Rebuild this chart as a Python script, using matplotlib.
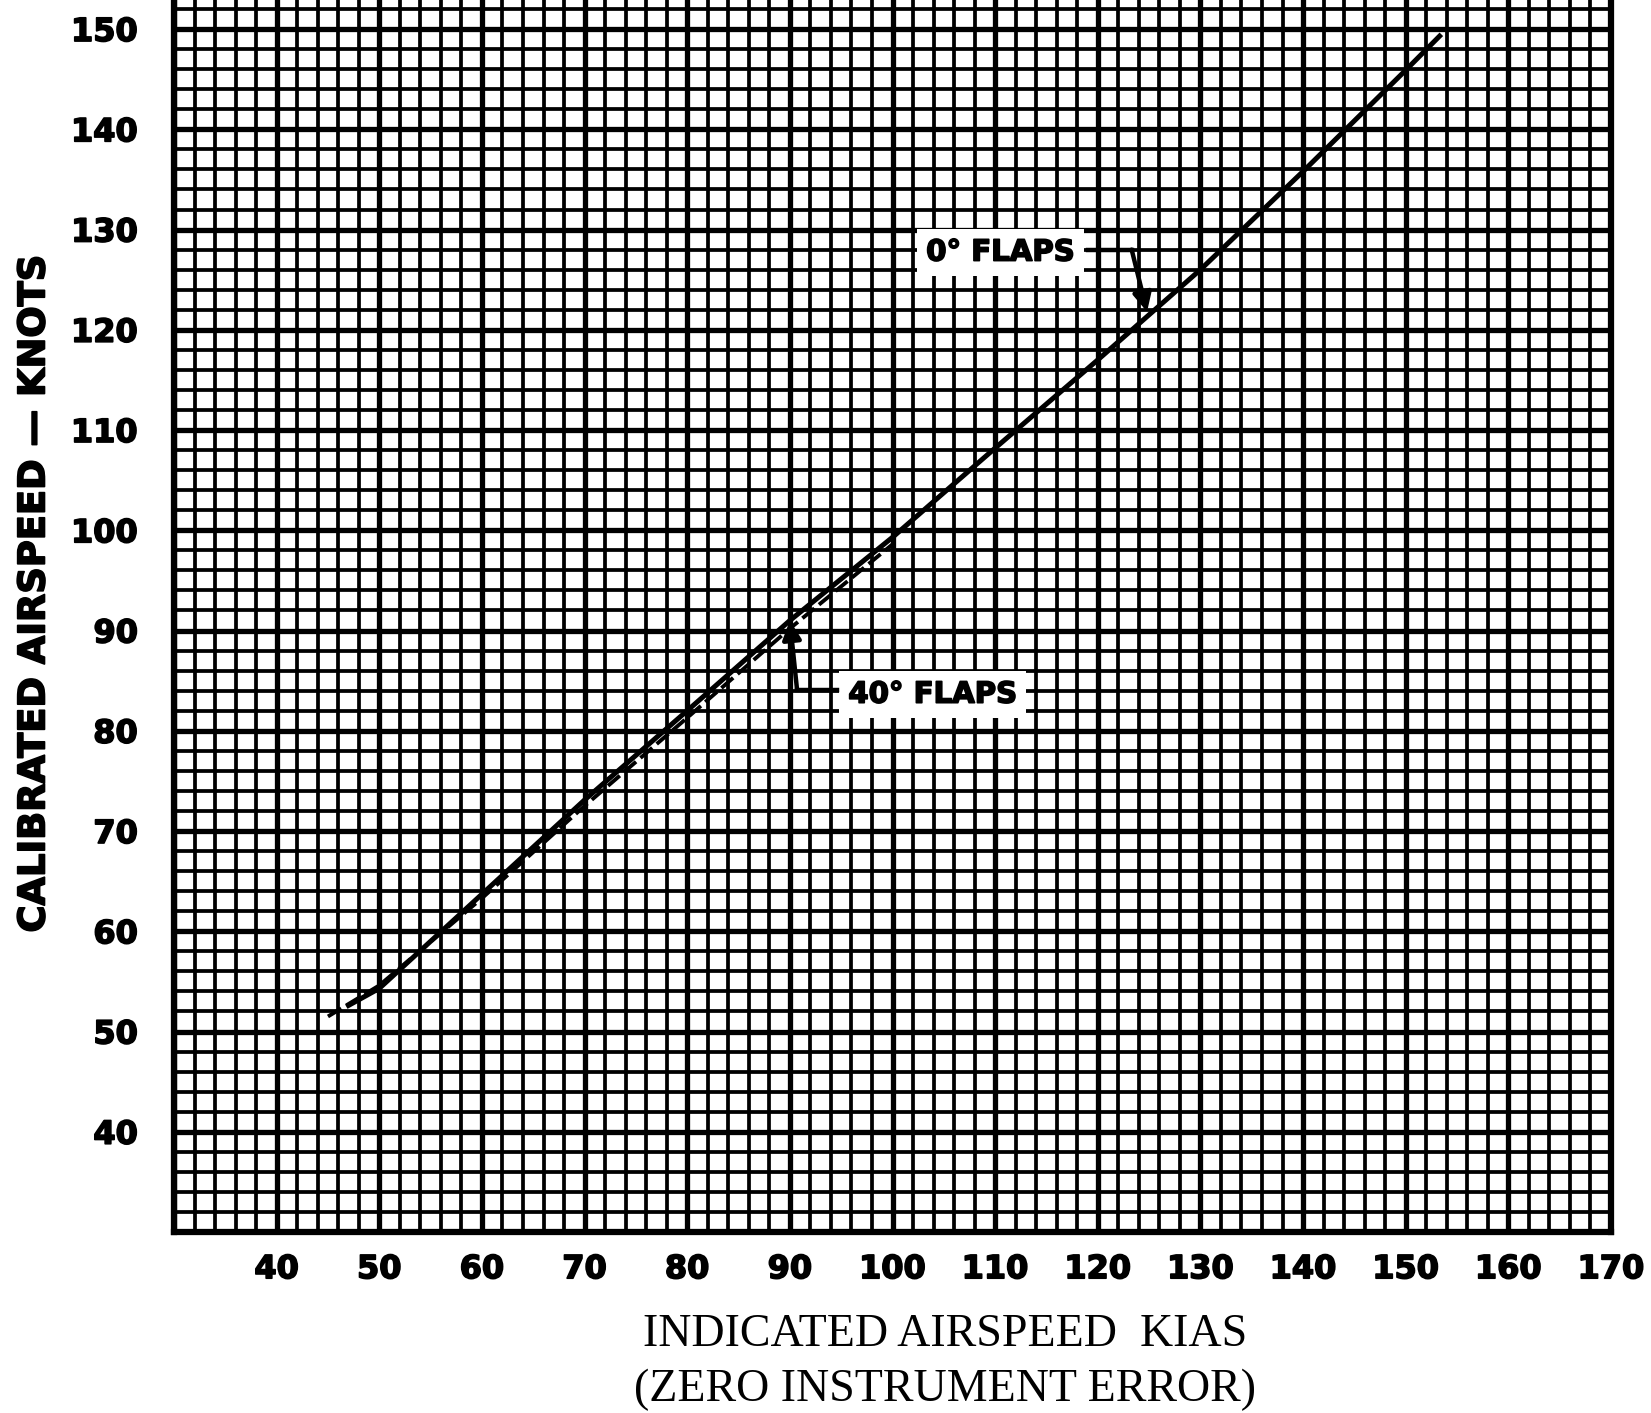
import matplotlib.pyplot as plt
import matplotlib.patheffects as pe
from matplotlib.ticker import MultipleLocator

# airspeed calibration
ias_flaps0 = [47, 50, 60, 70, 80, 90, 100, 110, 120, 130, 140, 150, 153.3]
cas_flaps0 = [52.6, 54.3, 63.7, 73.1, 82.0, 91.0, 99.3, 108.2, 117.0, 126.0, 135.8, 145.9, 149.3]

ias_flaps40 = [45, 50, 60, 70, 80, 90, 100]
cas_flaps40 = [51.5, 54.6, 63.3, 72.5, 81.3, 90.2, 98.6]

x_ticks = list(range(30, 171, 10))
y_ticks = list(range(30, 151, 10))

heavy = [pe.withStroke(linewidth=1.2, foreground='black')]

fig = plt.figure(figsize=(16.51, 14.13), dpi=100)
ax = fig.add_axes([174 / 1651, 1 - 1232 / 1413, 1437 / 1651, 1232 / 1413])

ax.set_xlim(30, 170)
ax.set_ylim(30, 152.9)

ax.set_xticks(x_ticks)
ax.set_xticklabels(['' if v == 30 else str(v) for v in x_ticks])
ax.set_yticks(y_ticks)
ax.set_yticklabels(['' if v == 30 else str(v) for v in y_ticks])
ax.xaxis.set_minor_locator(MultipleLocator(2))
ax.yaxis.set_minor_locator(MultipleLocator(2))

ax.grid(which='minor', color='black', lw=2.7)
ax.grid(which='major', color='black', lw=3.8)
ax.set_axisbelow(True)
ax.tick_params(which='both', length=0)
ax.tick_params(axis='x', pad=16)
ax.tick_params(axis='y', pad=26)
for lab in ax.get_xticklabels() + ax.get_yticklabels():
    lab.set_fontfamily('DejaVu Sans')
    lab.set_fontweight('bold')
    lab.set_fontsize(23)
    lab.set_path_effects(heavy)

for s in ['left', 'bottom', 'right']:
    ax.spines[s].set_linewidth(4.5)
ax.spines['top'].set_visible(False)

ax.plot(ias_flaps40, cas_flaps40, color='black', lw=2.8, ls=(0, (4, 1.5)), zorder=3)
ax.plot(ias_flaps0, cas_flaps0, color='black', lw=3.6, zorder=4)

box = dict(facecolor='white', edgecolor='none', pad=7)

# 0 deg flaps label and leader
ax.text(110.5, 127.7, '0° FLAPS', fontsize=21, fontweight='bold',
        ha='center', va='center', bbox=box, zorder=5, path_effects=heavy)
ax.plot([119.0, 123.3], [128.0, 128.0], color='black', lw=3.2, zorder=5)
ax.annotate('', xy=(124.8, 121.8), xytext=(123.3, 128.0),
            arrowprops=dict(arrowstyle='-|>', color='black', lw=3.2,
                            mutation_scale=28, shrinkA=0, shrinkB=0), zorder=5)

# 40 deg flaps label and leader
ax.text(103.9, 83.6, '40° FLAPS', fontsize=21, fontweight='bold',
        ha='center', va='center', bbox=box, zorder=5, path_effects=heavy)
ax.plot([94.6, 90.7], [84.1, 84.1], color='black', lw=3.2, zorder=5)
ax.annotate('', xy=(90.0, 91.0), xytext=(90.7, 84.1),
            arrowprops=dict(arrowstyle='-|>', color='black', lw=3.2,
                            mutation_scale=28, shrinkA=0, shrinkB=0), zorder=5)

fig.text(34 / 1651, 1 - 594 / 1413, 'CALIBRATED AIRSPEED — KNOTS', rotation=90,
         fontsize=26.5, fontweight='bold', ha='center', va='center',
         path_effects=heavy)
fig.text(945 / 1651, 1 - 1362 / 1413, 'INDICATED AIRSPEED  KIAS\n(ZERO INSTRUMENT ERROR)',
         family='Liberation Serif', fontsize=33, ha='center', va='center',
         linespacing=1.4)

fig.savefig('out.png', dpi=100)
